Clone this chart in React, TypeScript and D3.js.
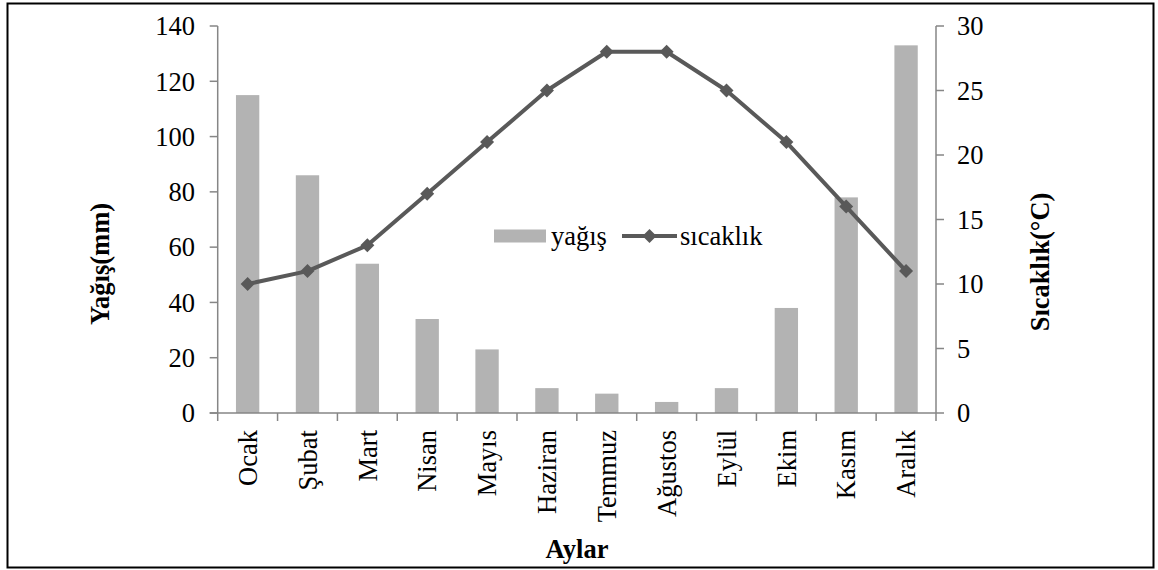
import React from "react";
import * as d3 from "d3";

const months = ["Ocak", "Şubat", "Mart", "Nisan", "Mayıs", "Haziran", "Temmuz", "Ağustos", "Eylül", "Ekim", "Kasım", "Aralık"];
const rainfall = [115, 86, 54, 34, 23, 9, 7, 4, 9, 38, 78, 133];
const temperature = [10, 11, 13, 17, 21, 25, 28, 28, 25, 21, 16, 11];
const leftTicks = [0, 20, 40, 60, 80, 100, 120, 140];
const rightTicks = [0, 5, 10, 15, 20, 25, 30];

const W = 1158;
const H = 570;
const FONT = '"Liberation Serif", "Times New Roman", Tinos, "DejaVu Serif", serif';
const FS = 26.5;
const AXIS = "#868686";
const BAR = "#b3b3b3";
const LINE = "#595959";

export default function App() {
  const x0 = 217.7, x1 = 936, yTop = 26, yBot = 413;
  const x = d3.scaleBand<string>().domain(months).range([x0, x1]).paddingInner(0.61).paddingOuter(0.305);
  const band = d3.scaleBand<string>().domain(months).range([x0, x1]);
  const yL = d3.scaleLinear().domain([0, 140]).range([yBot, yTop]);
  const yR = d3.scaleLinear().domain([0, 30]).range([yBot, yTop]);
  const cx = (m: string) => (band(m) as number) + band.bandwidth() / 2;
  const line = d3.line<number>().x((_, i) => cx(months[i])).y((d) => yR(d));
  const diamond = (px: number, py: number, r: number) => `M${px},${py - r}L${px + r},${py}L${px},${py + r}L${px - r},${py}Z`;
  const ts: React.CSSProperties = { fontFamily: FONT, fontSize: FS };
  const tb: React.CSSProperties = { fontFamily: FONT, fontSize: FS, fontWeight: "bold" };

  return (
    <svg width={W} height={H} style={{ position: "absolute", left: 0, top: 0, background: "#fff" }}>
      <rect x={0} y={0} width={W} height={H} fill="#fff" />
      <rect x={7.5} y={3.5} width={1146} height={564} fill="none" stroke="#000" strokeWidth={2} />

      {/* bars */}
      {rainfall.map((v, i) => (
        <rect key={months[i]} x={x(months[i])} y={yL(v)} width={x.bandwidth()} height={yBot - yL(v)} fill={BAR} />
      ))}

      {/* left axis */}
      <line x1={x0} x2={x0} y1={yTop} y2={yBot} stroke={AXIS} strokeWidth={1.5} />
      {leftTicks.map((t) => (
        <g key={"l" + t}>
          <line x1={x0 - 8} x2={x0} y1={yL(t)} y2={yL(t)} stroke={AXIS} strokeWidth={1.5} />
          <text x={195} y={yL(t)} dy="0.35em" textAnchor="end" style={ts} fill="#000">{t}</text>
        </g>
      ))}

      {/* right axis */}
      <line x1={x1} x2={x1} y1={yTop} y2={yBot} stroke={AXIS} strokeWidth={1.5} />
      {rightTicks.map((t) => (
        <g key={"r" + t}>
          <line x1={x1} x2={x1 + 8} y1={yR(t)} y2={yR(t)} stroke={AXIS} strokeWidth={1.5} />
          <text x={957} y={yR(t)} dy="0.35em" textAnchor="start" style={ts} fill="#000">{t}</text>
        </g>
      ))}

      {/* bottom axis */}
      <line x1={x0 - 8} x2={x1} y1={yBot} y2={yBot} stroke={AXIS} strokeWidth={1.5} />
      {months.map((m) => (
        <line key={"bt" + m} x1={band(m)} x2={band(m)} y1={yBot} y2={yBot + 8} stroke={AXIS} strokeWidth={1.5} />
      ))}
      <line x1={x1} x2={x1} y1={yBot} y2={yBot + 8} stroke={AXIS} strokeWidth={1.5} />
      {months.map((m) => (
        <text key={"bl" + m} transform={`translate(${cx(m)},430) rotate(-90)`} dy="0.35em" textAnchor="end" style={ts} fill="#000">{m}</text>
      ))}

      {/* line series */}
      <path d={line(temperature) || ""} fill="none" stroke={LINE} strokeWidth={4} strokeLinejoin="round" />
      {temperature.map((v, i) => (
        <path key={"mk" + i} d={diamond(cx(months[i]), yR(v), 7)} fill={LINE} />
      ))}

      {/* legend */}
      <rect x={494} y={229.5} width={52} height={13} fill={BAR} />
      <text x={551} y={236} dy="0.35em" style={ts} fill="#000">yağış</text>
      <line x1={622} x2={677} y1={236} y2={236} stroke={LINE} strokeWidth={4} />
      <path d={diamond(649.5, 236, 7)} fill={LINE} />
      <text x={680} y={236} dy="0.35em" style={ts} fill="#000">sıcaklık</text>

      {/* axis titles */}
      <text transform="translate(100,264) rotate(-90)" dy="0.35em" textAnchor="middle" style={tb} fill="#000">Yağış(mm)</text>
      <text transform="translate(1040,262) rotate(-90)" dy="0.35em" textAnchor="middle" style={tb} fill="#000">Sıcaklık(°C)</text>
      <text x={577} y={549} dy="0.35em" textAnchor="middle" style={tb} fill="#000">Aylar</text>
    </svg>
  );
}
